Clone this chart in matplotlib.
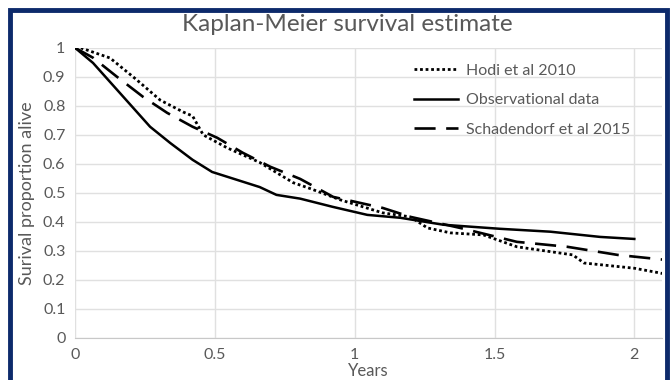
import matplotlib.pyplot as plt
from matplotlib.patches import Rectangle

plt.rcParams['font.family'] = ['Lato', 'DejaVu Sans']

# Kaplan-Meier curves (years, survival proportion)
hodi_t = [0, 0.02, 0.125, 0.22, 0.304, 0.386, 0.42, 0.458, 0.544, 0.66, 0.78, 0.84,
          0.948, 1.10, 1.20, 1.26, 1.342, 1.46, 1.58, 1.78, 1.82, 2.0, 2.09, 2.1]
hodi_s = [1.0, 1.0, 0.965, 0.89, 0.82, 0.779, 0.765, 0.70, 0.655, 0.605, 0.535, 0.515,
          0.476, 0.431, 0.417, 0.379, 0.362, 0.355, 0.314, 0.286, 0.258, 0.24, 0.224, 0.222]

obs_t = [0, 0.064, 0.268, 0.34, 0.42, 0.49, 0.66, 0.72, 0.805, 0.92, 1.045, 1.163,
         1.317, 1.52, 1.70, 1.878, 2.0]
obs_s = [1.0, 0.948, 0.728, 0.672, 0.614, 0.572, 0.52, 0.493, 0.48, 0.452, 0.424, 0.414,
         0.39, 0.376, 0.366, 0.348, 0.341]

scha_t = [0, 0.064, 0.15, 0.243, 0.329, 0.42, 0.508, 0.60, 0.698, 0.805, 0.923, 1.10,
          1.20, 1.377, 1.58, 1.76, 1.94, 2.1]
scha_s = [1.0, 0.966, 0.90, 0.831, 0.776, 0.728, 0.69, 0.638, 0.59, 0.548, 0.486, 0.448,
          0.417, 0.379, 0.331, 0.314, 0.286, 0.27]

grey = '#595959'

fig = plt.figure(figsize=(6.71, 3.80), dpi=100)
ax = fig.add_axes([0.112, 0.111, 0.875, 0.763])

ax.plot(hodi_t, hodi_s, color='black', linestyle=(0, (1, 1)), linewidth=2.0, label='Hodi et al 2010')
ax.plot(obs_t, obs_s, color='black', linestyle='-', linewidth=1.8, label='Observational data')
ax.plot(scha_t, scha_s, color='black', linestyle=(0, (8, 4)), linewidth=1.9, label='Schadendorf et al 2015')

ax.set_xlim(0, 2.1)
ax.set_ylim(0, 1)
ax.set_xticks([0, 0.5, 1, 1.5, 2])
ax.set_xticklabels(['0', '0.5', '1', '1.5', '2'])
ax.set_yticks([i / 10 for i in range(11)])
ax.set_yticklabels(['0', '0.1', '0.2', '0.3', '0.4', '0.5', '0.6', '0.7', '0.8', '0.9', '1'])
ax.grid(True, color='#e0e0e0', linewidth=1)
ax.set_axisbelow(True)
for s in ['top', 'right', 'left']:
    ax.spines[s].set_visible(False)
ax.spines['bottom'].set_color('#c8c8c8')
ax.tick_params(length=0, labelsize=11.5, colors=grey, pad=7)

ax.set_xlabel('Years', fontsize=12, color=grey, labelpad=1)
ax.set_ylabel('Surival proportion alive', fontsize=13, color=grey, labelpad=6)
fig.text(0.518, 0.918, 'Kaplan-Meier survival estimate', ha='center', va='baseline',
         fontsize=17.5, color=grey)

leg = ax.legend(loc='upper left', bbox_to_anchor=(0.552, 0.995), frameon=False,
                fontsize=11.5, handlelength=2.8, labelspacing=0.95, handletextpad=0.5)
for t in leg.get_texts():
    t.set_color(grey)

# dark blue frame around the figure
fig.patches.append(Rectangle((10 / 671, -0.05), 657 / 671, 1 - 10 / 380 + 0.05,
                             transform=fig.transFigure, fill=False,
                             edgecolor='#0d2a6b', linewidth=3.5))

fig.savefig('out.png', dpi=100)
